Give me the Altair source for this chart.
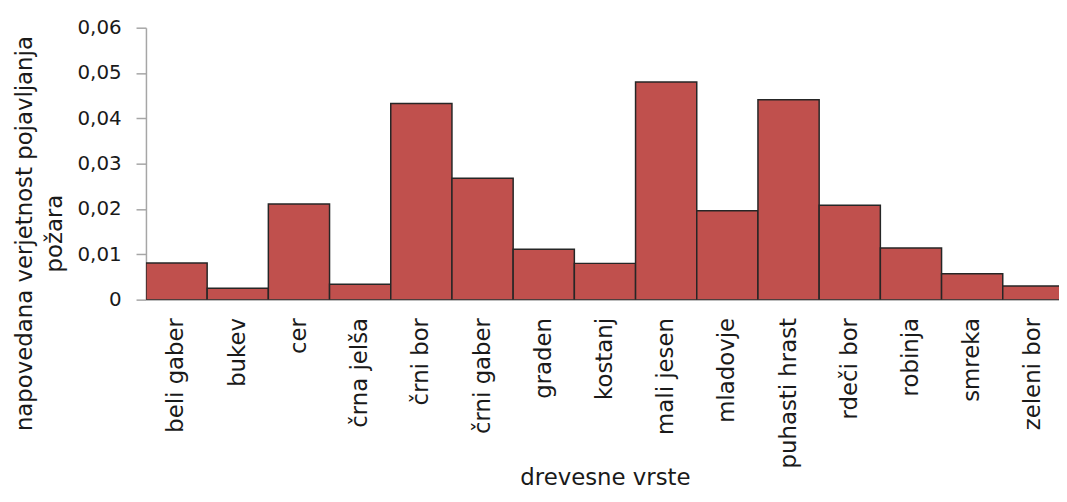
import altair as alt
import pandas as pd

species = ["beli gaber", "bukev", "cer", "črna jelša", "črni bor", "črni gaber",
           "graden", "kostanj", "mali jesen", "mladovje", "puhasti hrast",
           "rdeči bor", "robinja", "smreka", "zeleni bor"]
probability = [0.0081, 0.0025, 0.0211, 0.0034, 0.0433, 0.0268,
               0.0111, 0.0080, 0.0480, 0.0196, 0.0441,
               0.0208, 0.0114, 0.0057, 0.0030]
y_ticks = [0, 0.01, 0.02, 0.03, 0.04, 0.05, 0.06]

df = pd.DataFrame({"vrsta": species, "p": probability})

FONT = "DejaVu Sans"

chart = alt.Chart(df).mark_bar(
    color="#c0504d", stroke="#262626", strokeWidth=1.5, clip=True
).encode(
    x=alt.X("vrsta:N", sort=species,
            scale=alt.Scale(range=[0, 925], paddingInner=0, paddingOuter=0),
            axis=alt.Axis(title="drevesne vrste", labelAngle=270, labelPadding=18,
                          ticks=False, labelFontSize=23, titleFontSize=23,
                          titleFontWeight="normal", titleBaseline="alphabetic",
                          titleY=186, domainColor="#a6a6a6", domainWidth=1.5,
                          labelColor="#1a1a1a", titleColor="#1a1a1a")),
    y=alt.Y("p:Q", scale=alt.Scale(domain=[0, 0.06], nice=False),
            axis=alt.Axis(title=["napovedana verjetnost pojavljanja", "požara"],
                          values=y_ticks, grid=False, tickSize=10,
                          tickColor="#a6a6a6", tickWidth=1.5,
                          domainColor="#a6a6a6", domainWidth=1.5,
                          labelPadding=15, labelFontSize=20,
                          labelExpr="datum.value == 0 ? '0' : replace(format(datum.value, '.2f'), '.', ',')",
                          titleFontSize=23, titleFontWeight="normal",
                          titleAngle=270, titleAlign="center", titleBaseline="middle",
                          titleX=-122, titleY=207, titleLineHeight=30,
                          labelColor="#1a1a1a", titleColor="#1a1a1a")),
).properties(
    width=920, height=274,
    autosize=alt.AutoSizeParams(type="none"),
    padding={"left": 139, "top": 18, "right": 0, "bottom": 194},
).configure(font=FONT).configure_view(stroke=None)

chart.save("out.html", embed_options={"renderer": "svg", "actions": False})
